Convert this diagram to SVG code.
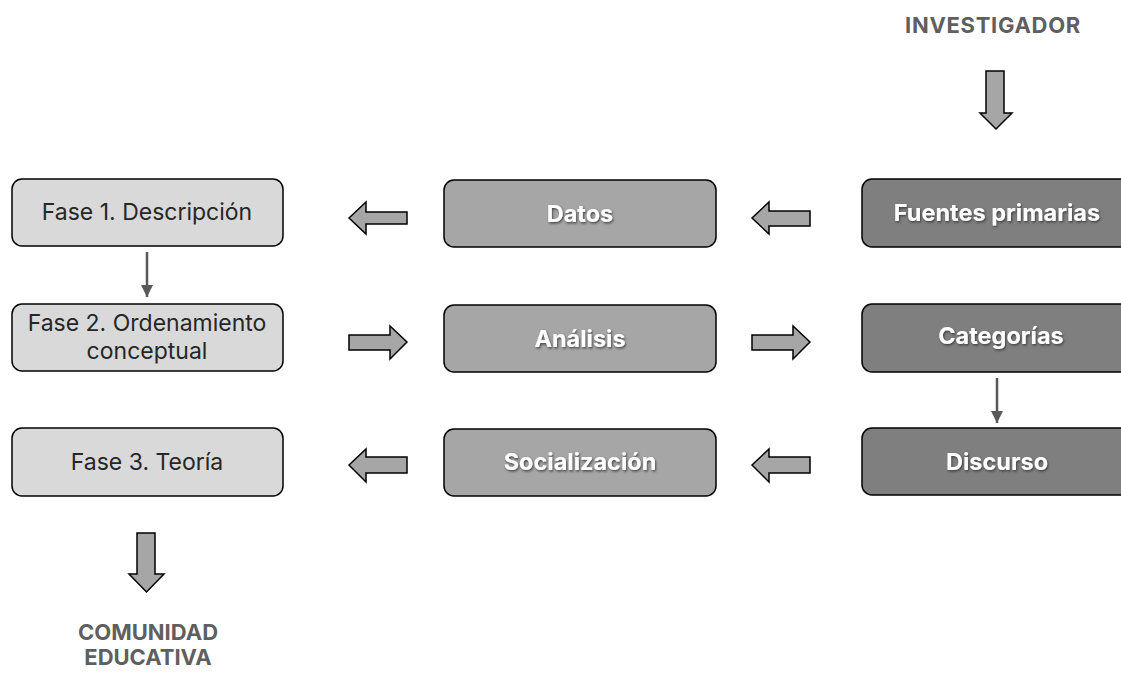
<svg xmlns="http://www.w3.org/2000/svg" width="1121" height="675" viewBox="0 0 1121 675">
<style>
.box{stroke:#000;stroke-width:1.5}
.l1{fill:#d9d9d9}
.l2{fill:#a6a6a6}
.l3{fill:#7f7f7f}
.t1{font-family:Inter,"Liberation Sans",sans-serif;font-size:23px;fill:#262626;text-anchor:middle}
.tb{font-family:Inter,"Liberation Sans",sans-serif;font-size:23.5px;font-weight:bold;fill:#fff;text-anchor:middle;filter:url(#sh)}
.lab{font-family:Inter,"Liberation Sans",sans-serif;font-size:22px;font-weight:bold;fill:#5f5f5f;text-anchor:middle}
.ba{fill:#a6a6a6;stroke:#000;stroke-width:1.5;stroke-linejoin:miter}
.thin{stroke:#595959;stroke-width:2.5;fill:none}
</style>
<defs>
<filter id="sh" x="-10%" y="-30%" width="130%" height="170%">
<feDropShadow dx="1" dy="1.5" stdDeviation="1" flood-color="#333" flood-opacity="0.8"/>
</filter>
<marker id="ah" viewBox="0 0 10 10" refX="10" refY="5" markerWidth="5" markerHeight="5" markerUnits="strokeWidth" orient="auto">
<path d="M0,0 L10,5 L0,10 z" fill="#595959"/>
</marker>
</defs>
<rect width="1121" height="675" fill="#fff"/>

<g id="investigador"><text class="lab" x="993" y="33" letter-spacing="0.7">INVESTIGADOR</text></g>
<g id="comunidad"><text class="lab" x="148" y="640">COMUNIDAD</text><text class="lab" x="148" y="665">EDUCATIVA</text></g>

<g id="fase1"><rect class="box l1" x="12" y="179" width="271" height="67" rx="10"/><text class="t1" x="147" y="220">Fase 1. Descripción</text></g>
<g id="fase2"><rect class="box l1" x="12" y="304" width="271" height="67" rx="10"/><text class="t1" x="147" y="331">Fase 2. Ordenamiento</text><text class="t1" x="147" y="359">conceptual</text></g>
<g id="fase3"><rect class="box l1" x="12" y="428" width="271" height="68" rx="10"/><text class="t1" x="147" y="470">Fase 3. Teoría</text></g>

<g id="datos"><rect class="box l2" x="444" y="180" width="272" height="67" rx="10"/><text class="tb" x="580" y="222">Datos</text></g>
<g id="analisis"><rect class="box l2" x="444" y="305" width="272" height="67" rx="10"/><text class="tb" x="580" y="347">Análisis</text></g>
<g id="socializacion"><rect class="box l2" x="444" y="429" width="272" height="67" rx="10"/><text class="tb" x="580" y="470">Socialización</text></g>

<g id="fuentes"><rect class="box l3" x="862" y="179" width="272" height="68" rx="10"/><text class="tb" x="997" y="221">Fuentes primarias</text></g>
<g id="categorias"><rect class="box l3" x="862" y="304" width="272" height="68" rx="10"/><text class="tb" x="1001" y="344">Categorías</text></g>
<g id="discurso"><rect class="box l3" x="862" y="428" width="272" height="67" rx="10"/><text class="tb" x="997" y="470">Discurso</text></g>

<g id="connectors">
<polygon class="ba" points="986,71 1004,71 1004,113 1012,113 996,129 980,113 986,113"/>
<polygon class="ba" points="137,533 155,533 155,574 164,574 146.5,592 129,574 137,574"/>
<polygon class="ba" points="349,218 366,202 366,212 407,212 407,224 366,224 366,234"/>
<polygon class="ba" points="752,218 769,202 769,211 810,211 810,226 769,226 769,234"/>
<polygon class="ba" points="407,342 390,326 390,335 349,335 349,350 390,350 390,359"/>
<polygon class="ba" points="810,342 793,326 793,335 752,335 752,350 793,350 793,359"/>
<polygon class="ba" points="349,465 366,449 366,457 407,457 407,473 366,473 366,482"/>
<polygon class="ba" points="752,465 769,449 769,457 810,457 810,473 769,473 769,482"/>
<line class="thin" x1="147" y1="252" x2="147" y2="297" marker-end="url(#ah)"/>
<line class="thin" x1="997" y1="378" x2="997" y2="423" marker-end="url(#ah)"/>
</g>
</svg>
